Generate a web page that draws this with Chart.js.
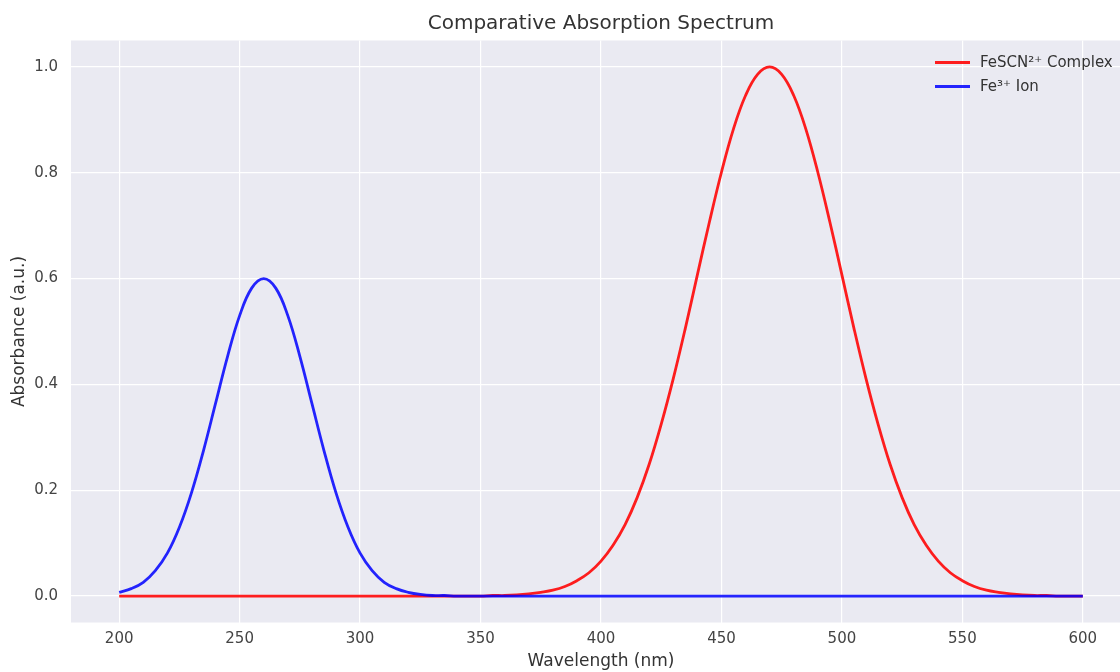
<!DOCTYPE html>
<html>
<head>
<meta charset="utf-8">
<title>Comparative Absorption Spectrum</title>
<script src="https://cdn.jsdelivr.net/npm/chart.js@4.4.1/dist/chart.umd.min.js"></script>
<style>
  html, body { margin: 0; padding: 0; background: #ffffff; overflow: hidden; }
  #wrap { width: 1120px; height: 672px; overflow: hidden; }
  canvas { display: block; }
</style>
</head>
<body>
<div id="wrap">
  <canvas id="grafico" width="1131" height="672"></canvas>
</div>
<script>
// comprimento de onda (nm)
var wavelengths = [
    200, 205, 210, 215, 220, 225, 230, 235, 240, 245,
    250, 255, 260, 265, 270, 275, 280, 285, 290, 295,
    300, 305, 310, 315, 320, 325, 330, 335, 340, 345,
    350, 355, 360, 365, 370, 375, 380, 385, 390, 395,
    400, 405, 410, 415, 420, 425, 430, 435, 440, 445,
    450, 455, 460, 465, 470, 475, 480, 485, 490, 495,
    500, 505, 510, 515, 520, 525, 530, 535, 540, 545,
    550, 555, 560, 565, 570, 575, 580, 585, 590, 595,
    600
];

// FeSCN2+ (vermelho)
var complexAbs = [
    0, 0, 0, 0, 0, 0, 0, 0, 0, 0,
    0, 0, 0, 0, 0, 0, 0, 0, 0, 0,
    0, 0, 0, 0, 0, 0, 0, 0, 0, 0,
    0, 0.001, 0.001, 0.002, 0.004, 0.007, 0.011, 0.018, 0.029, 0.044,
    0.066, 0.096, 0.135, 0.186, 0.249, 0.325, 0.411, 0.506, 0.607, 0.707,
    0.801, 0.883, 0.946, 0.986, 1.000, 0.986, 0.946, 0.883, 0.801, 0.707,
    0.607, 0.506, 0.411, 0.325, 0.249, 0.186, 0.135, 0.096, 0.066, 0.044,
    0.029, 0.018, 0.011, 0.007, 0.004, 0.002, 0.001, 0.001, 0, 0,
    0
];

// Fe3+ (azul)
var ionAbs = [
    0.007, 0.014, 0.026, 0.048, 0.081, 0.130, 0.195, 0.275, 0.364, 0.453,
    0.530, 0.582, 0.600, 0.582, 0.530, 0.453, 0.364, 0.275, 0.195, 0.130,
    0.081, 0.048, 0.026, 0.014, 0.007, 0.003, 0.001, 0.001, 0, 0,
    0, 0, 0, 0, 0, 0, 0, 0, 0, 0,
    0, 0, 0, 0, 0, 0, 0, 0, 0, 0,
    0, 0, 0, 0, 0, 0, 0, 0, 0, 0,
    0, 0, 0, 0, 0, 0, 0, 0, 0, 0,
    0, 0, 0, 0, 0, 0, 0, 0, 0, 0,
    0
];

var xTicks = [200, 250, 300, 350, 400, 450, 500, 550, 600];
var yTicks = [0.0, 0.2, 0.4, 0.6, 0.8, 1.0];

var seriesNames = ["FeSCN²⁺ Complex", "Fe³⁺ Ion"];
var seriesColors = ["rgba(255, 0, 0, 0.88)", "rgba(0, 0, 255, 0.85)"];

var FONTE = "'DejaVu Sans', 'Liberation Sans', sans-serif";

function pontos(ys) {
    var out = [];
    for (var i = 0; i < wavelengths.length; i++) {
        out.push({ x: wavelengths[i], y: ys[i] });
    }
    return out;
}

// fundo cinza da area do grafico (estilo seaborn darkgrid)
var fundoPlugin = {
    id: "fundo",
    beforeDraw: function(chart) {
        var a = chart.chartArea;
        var ctx = chart.ctx;
        ctx.save();
        ctx.fillStyle = "#eaeaf2";
        ctx.fillRect(a.left, a.top, a.right - a.left, a.bottom - a.top);
        ctx.restore();
    }
};

// titulo e legenda desenhados dentro do grafico
var textoPlugin = {
    id: "textos",
    afterDraw: function(chart) {
        var a = chart.chartArea;
        var ctx = chart.ctx;
        ctx.save();
        ctx.fillStyle = "#333333";
        ctx.font = "20px " + FONTE;
        ctx.textAlign = "center";
        ctx.textBaseline = "middle";
        ctx.fillText("Comparative Absorption Spectrum", (a.left + a.right) / 2, 23.5);

        // legenda no canto superior direito
        var x0 = a.right - 196;
        for (var i = 0; i < seriesNames.length; i++) {
            var y = a.top + 22 + i * 24;
            ctx.strokeStyle = seriesColors[i];
            ctx.lineWidth = 2.8;
            ctx.beginPath();
            ctx.moveTo(x0, y);
            ctx.lineTo(x0 + 35, y);
            ctx.stroke();
            ctx.fillStyle = "#333333";
            ctx.font = "15px " + FONTE;
            ctx.textAlign = "left";
            ctx.fillText(seriesNames[i], x0 + 45, y + 0.5);
        }
        ctx.restore();
    }
};

const config = {
    type: "line",
    data: {
        datasets: [
            {
                label: seriesNames[0],
                data: pontos(complexAbs),
                borderColor: seriesColors[0],
                borderWidth: 2.8,
                pointRadius: 0,
                fill: false,
                tension: 0.4,
                order: 1
            },
            {
                label: seriesNames[1],
                data: pontos(ionAbs),
                borderColor: seriesColors[1],
                borderWidth: 2.8,
                pointRadius: 0,
                fill: false,
                tension: 0.4,
                order: 0
            }
        ]
    },
    options: {
        responsive: false,
        animation: false,
        layout: { padding: { top: 40.5, left: 0, right: 0, bottom: 0 } },
        plugins: {
            legend: { display: false },
            title: { display: false },
            tooltip: { enabled: false }
        },
        scales: {
            x: {
                type: "linear",
                min: 180,
                max: 620,
                afterBuildTicks: function(scale) {
                    scale.ticks = xTicks.map(function(v) { return { value: v }; });
                },
                afterFit: function(scale) { scale.height = 49.5; },
                border: { display: false },
                grid: { color: "#ffffff", lineWidth: 1.2, drawTicks: false },
                ticks: {
                    color: "#444444",
                    padding: 8,
                    maxRotation: 0,
                    font: { family: FONTE, size: 15 },
                    callback: function(v) { return String(v); }
                },
                title: {
                    display: true,
                    text: "Wavelength (nm)",
                    color: "#333333",
                    padding: { top: 0, bottom: 0 },
                    font: { family: FONTE, size: 17 }
                }
            },
            y: {
                type: "linear",
                min: -0.05,
                max: 1.05,
                afterBuildTicks: function(scale) {
                    scale.ticks = yTicks.map(function(v) { return { value: v }; });
                },
                afterFit: function(scale) { scale.width = 71; },
                border: { display: false },
                grid: { color: "#ffffff", lineWidth: 1.2, drawTicks: false },
                ticks: {
                    color: "#444444",
                    padding: 13,
                    font: { family: FONTE, size: 15 },
                    callback: function(v) { return Number(v).toFixed(1); }
                },
                title: {
                    display: true,
                    text: "Absorbance (a.u.)",
                    color: "#333333",
                    padding: { top: 9, bottom: 0 },
                    font: { family: FONTE, size: 17 }
                }
            }
        }
    },
    plugins: [fundoPlugin, textoPlugin]
};

var meuGrafico = new Chart(document.getElementById("grafico"), config);
</script>
</body>
</html>
